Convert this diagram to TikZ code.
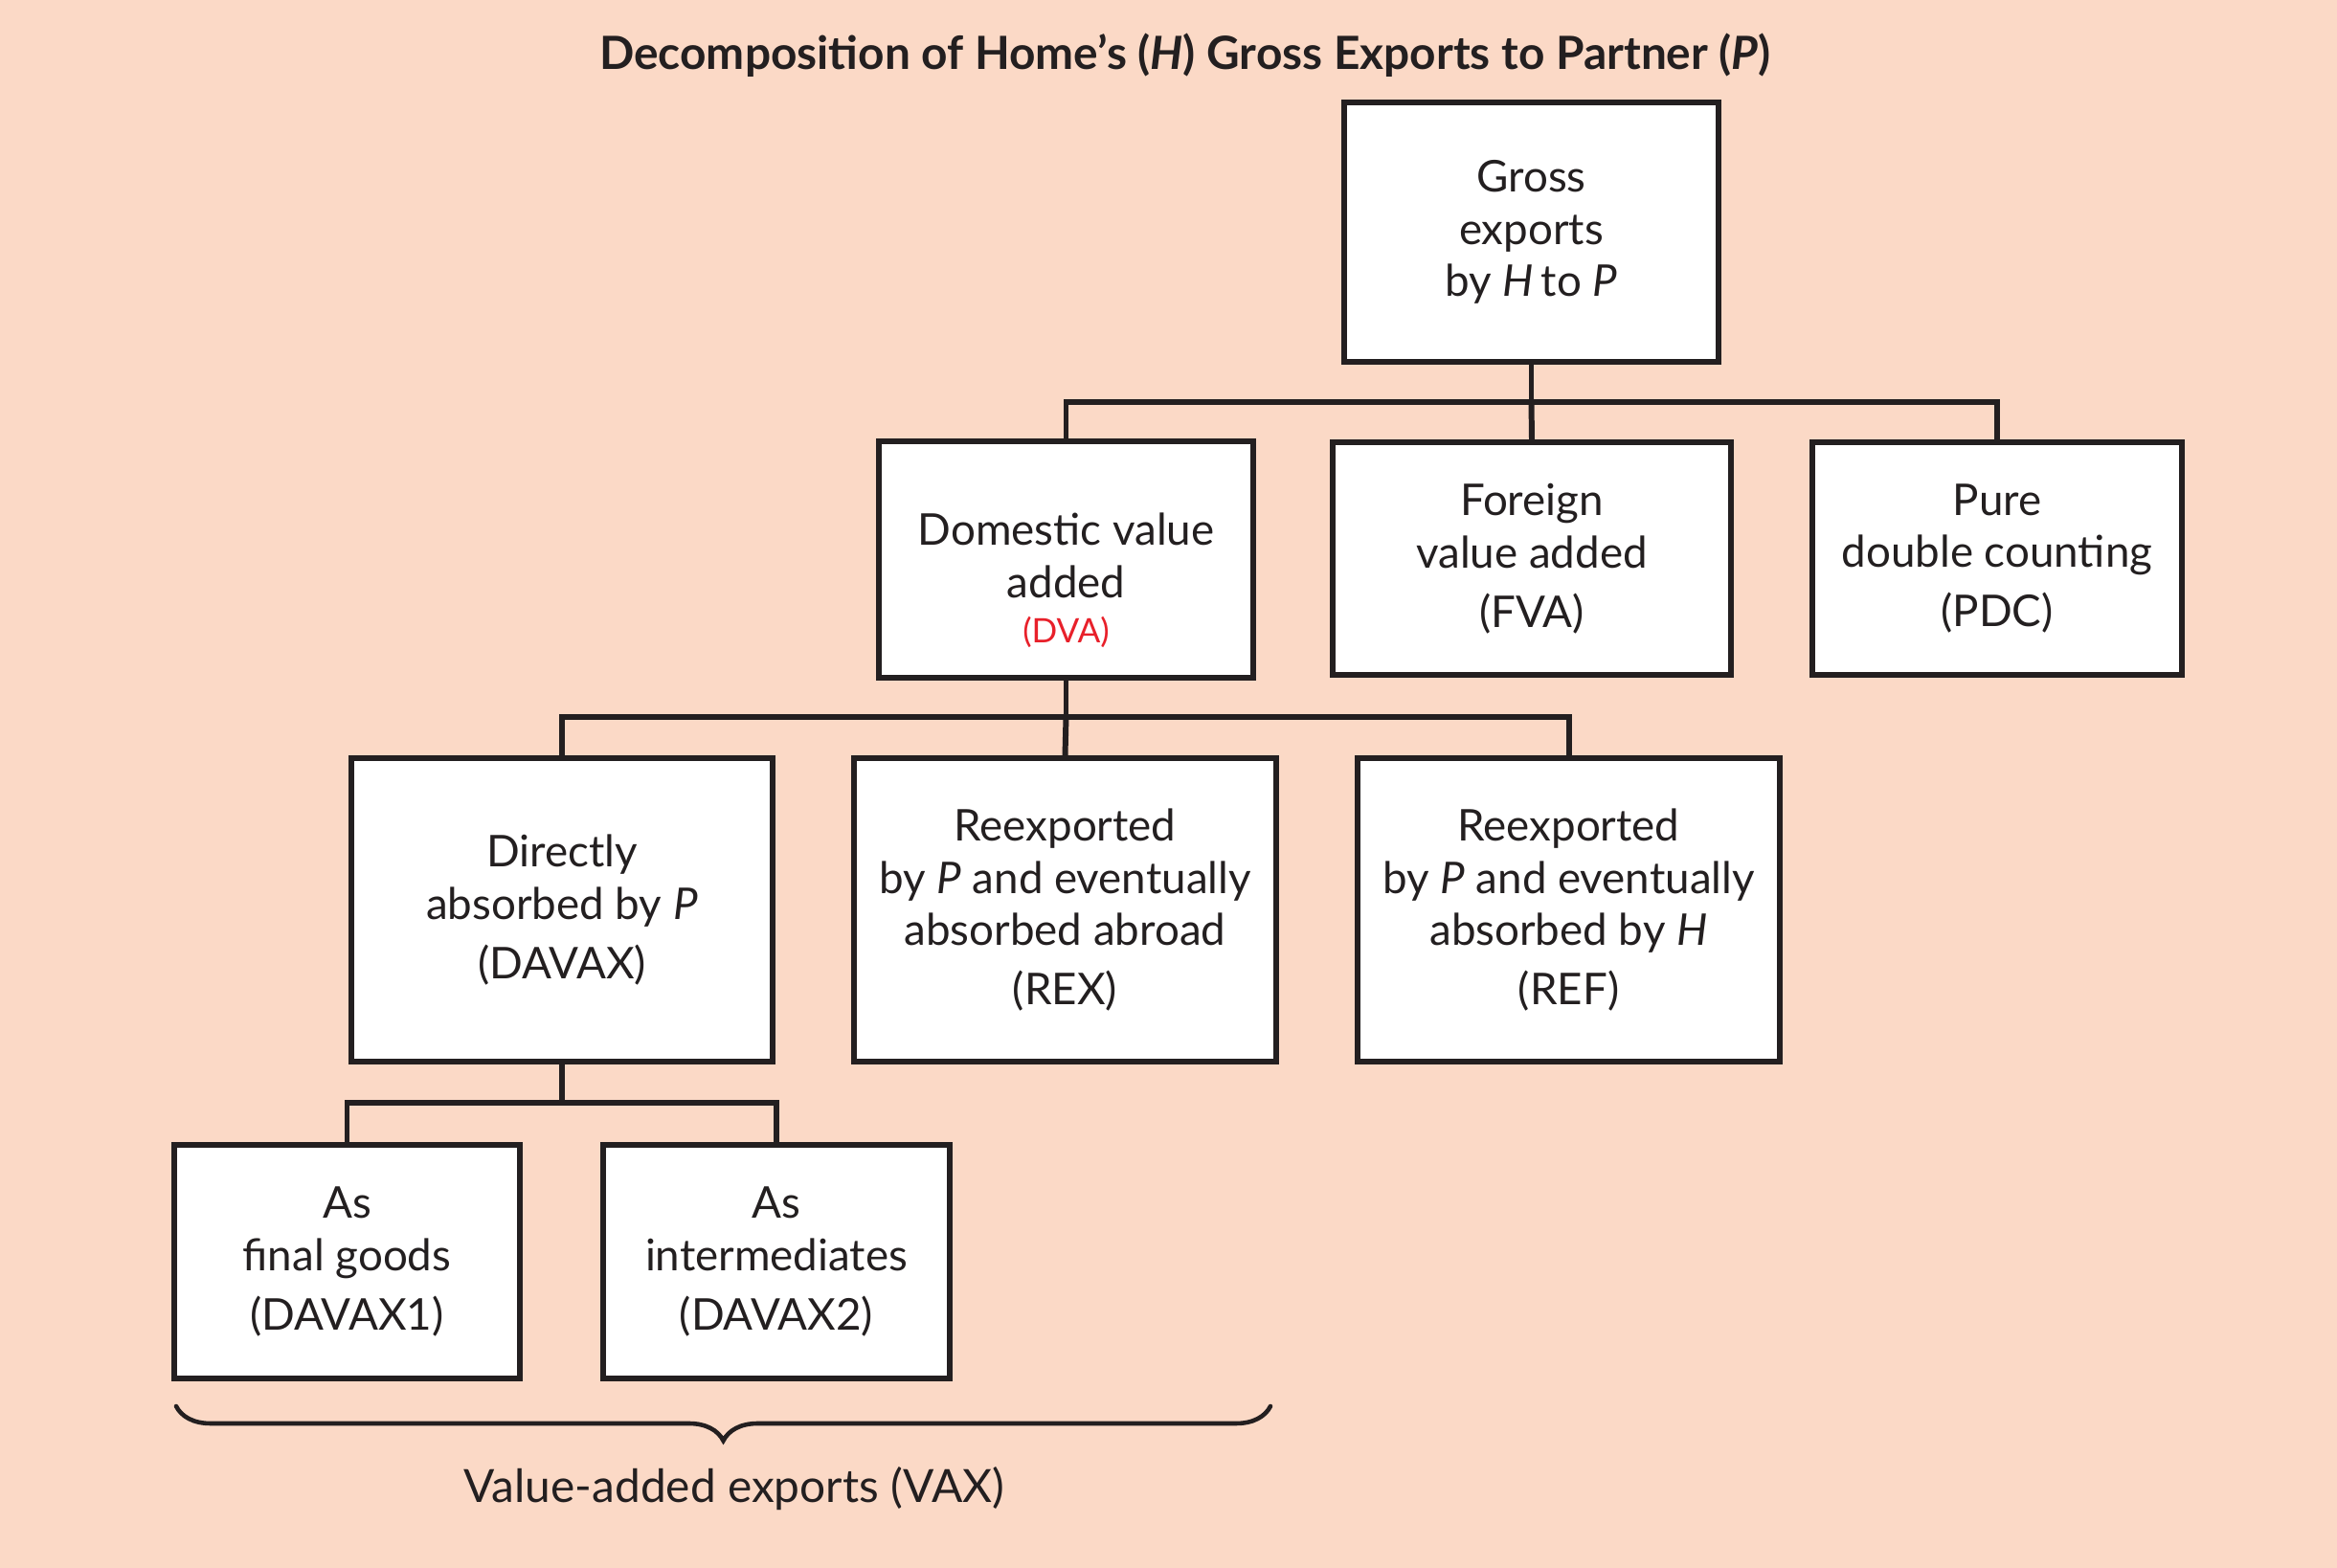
\documentclass[tikz,border=0pt]{standalone}
\usepackage{fontspec}
\setmainfont{Lato}
\usepackage{xcolor}
\usetikzlibrary{calc,decorations.pathreplacing}

\definecolor{peach}{RGB}{251,217,198}
\definecolor{inkline}{RGB}{35,31,32}
\definecolor{dvared}{RGB}{232,32,42}

\begin{document}
\begin{tikzpicture}[
    line cap=rect,
    line join=miter,
    box/.style={
        draw=inkline,
        line width=1.7pt,
        fill=white,
        align=center,
        inner sep=2pt,
        text=inkline,
        font=\fontsize{13}{15.6}\selectfont
    },
    link/.style={draw=inkline, line width=1.7pt}
]

%------------------------------------------------
% Background and frame
%------------------------------------------------
\fill[peach] (0,0) rectangle (24.41,-16.38);
\useasboundingbox (0,0) rectangle (24.41,-16.38);

%------------------------------------------------
% Title
%------------------------------------------------
\node[text=inkline, font=\fontsize{13.6}{16}\selectfont\bfseries] (title)
    at (12.38,-0.58)
    {Decomposition of Home’s (\textit{H}) Gross Exports to Partner (\textit{P})};

%------------------------------------------------
% Top level
%------------------------------------------------
\node[box, minimum width=3.91cm, minimum height=2.71cm] (gross)
    at (15.995,-2.425) {Gross\\exports\\by \textit{H}\,to \textit{P}};

%------------------------------------------------
% Second level
%------------------------------------------------
\node[box, minimum width=3.91cm, minimum height=2.47cm] (dva)
    at (11.135,-5.845)
    {\rule{0pt}{22pt}Domestic value\\added\\[-2pt]{\color{dvared}\fontsize{10}{12}\selectfont(DVA)}};

\node[box, minimum width=4.16cm, minimum height=2.43cm] (fva)
    at (16.0,-5.835) {Foreign\\value added\\[2pt](FVA)};

\node[box, minimum width=3.86cm, minimum height=2.43cm] (pdc)
    at (20.86,-5.835) {Pure\\double counting\\[2pt](PDC)};

%------------------------------------------------
% Third level
%------------------------------------------------
\node[box, minimum width=4.40cm, minimum height=3.17cm] (davax)
    at (5.87,-9.505) {Directly\\absorbed by \textit{P}\\[2pt](DAVAX)};

\node[box, minimum width=4.41cm, minimum height=3.17cm] (rex)
    at (11.125,-9.505)
    {Reexported\\by \textit{P} and eventually\\absorbed abroad\\[2pt](REX)};

\node[box, minimum width=4.41cm, minimum height=3.17cm] (ref)
    at (16.385,-9.505)
    {Reexported\\by \textit{P} and eventually\\absorbed by \textit{H}\\[2pt](REF)};

%------------------------------------------------
% Fourth level
%------------------------------------------------
\node[box, minimum width=3.61cm, minimum height=2.44cm] (davaxone)
    at (3.625,-13.18) {As\\final goods\\[2pt](DAVAX1)};

\node[box, minimum width=3.62cm, minimum height=2.44cm] (davaxtwo)
    at (8.11,-13.18) {As\\intermediates\\[2pt](DAVAX2)};

%------------------------------------------------
% Tree connectors
%------------------------------------------------
\coordinate (jgross) at ($(gross.south)+(0,-0.39)$);
\coordinate (jdva)   at ($(dva.south)+(0,-0.38)$);
\coordinate (jdavax) at ($(davax.south)+(0,-0.40)$);

\draw[link] (gross.south) -- (jgross);
\draw[link] (jgross) -| (dva.north);
\draw[link] (jgross) -| (pdc.north);
\draw[link] (jgross) -- (fva.north);

\draw[link] (dva.south) -- (jdva);
\draw[link] (jdva) -| (davax.north);
\draw[link] (jdva) -| (ref.north);
\draw[link] (jdva) -- (rex.north);

\draw[link] (davax.south) -- (jdavax);
\draw[link] (jdavax) -| (davaxone.north);
\draw[link] (jdavax) -| (davaxtwo.north);

%------------------------------------------------
% Brace under value-added exports
%------------------------------------------------
\coordinate (braceleft)  at (1.84,-14.69);
\coordinate (braceright) at (13.27,-14.69);

\draw[inkline, line width=1.3pt, line cap=round,
      decorate, decoration={brace, mirror, amplitude=0.36cm}]
    (braceleft) -- (braceright);

\node[text=inkline, font=\fontsize{13.6}{16}\selectfont] (vax)
    at (7.67,-15.55) {Value-added exports (VAX)};

\end{tikzpicture}
\end{document}
